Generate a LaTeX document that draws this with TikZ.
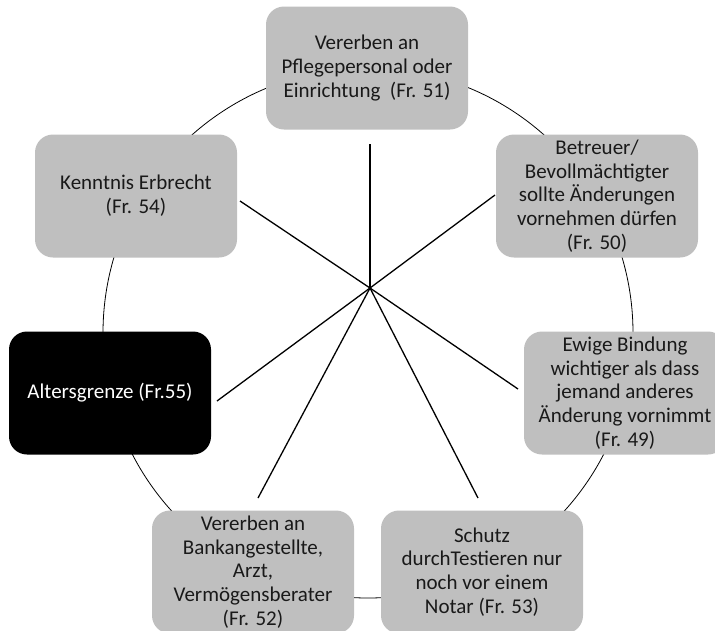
\documentclass[tikz,border=0pt]{standalone}
\usepackage{fontspec}
\setmainfont{Carlito}
\begin{document}
\begin{tikzpicture}[x=1pt,y=-1pt,
  box/.style={rounded corners=18pt, fill=boxgray, minimum width=202pt, minimum height=123pt, align=center, font=\fontsize{21}{23.8}\selectfont, text=black!90},
  darkbox/.style={box, fill=black, text=white},
  spoke/.style={line width=1.3pt},
  ring/.style={line width=0.8pt}]
\definecolor{boxgray}{HTML}{BFBFBF}
\useasboundingbox (0,0) rectangle (715,630);
\begin{scope}
\clip (0,0) rectangle (715,630);
\draw[ring] (368,333) circle (265);
\node[box] (n51) at (367,68) {Vererben an\\Pflegepersonal oder\\Einrichtung\ \ (Fr. 51)};
\node[box] (n50) at (597,196) {Betreuer/\\Bevollmächtigter\\sollte Änderungen\\vornehmen dürfen\\(Fr. 50)};
\node[box] (n49) at (625,393) {Ewige Bindung\\wichtiger als dass\\jemand anderes\\Änderung vornimmt\\(Fr. 49)};
\node[box] (n53) at (482,572) {Schutz\\durchTestieren nur\\noch vor einem\\Notar (Fr. 53)};
\node[box] (n52) at (253,572) {Vererben an\\Bankangestellte,\\Arzt,\\Vermögensberater\\(Fr. 52)};
\node[darkbox] (n55) at (110,393) {Altersgrenze (Fr.55)};
\node[box] (n54) at (136,196) {Kenntnis Erbrecht\\(Fr. 54)};
\end{scope}
\coordinate (hub) at (370,288);
\coordinate (e51) at (370,144);
\coordinate (e50) at (495,195);
\coordinate (e49) at (518,389);
\coordinate (e53) at (478,498);
\coordinate (e52) at (258,498);
\coordinate (e55) at (217,401);
\coordinate (e54) at (240,201);
\foreach \e in {e51,e50,e49,e53,e52,e55,e54}
  \draw[spoke] (hub) -- (\e);
\end{tikzpicture}
\end{document}
